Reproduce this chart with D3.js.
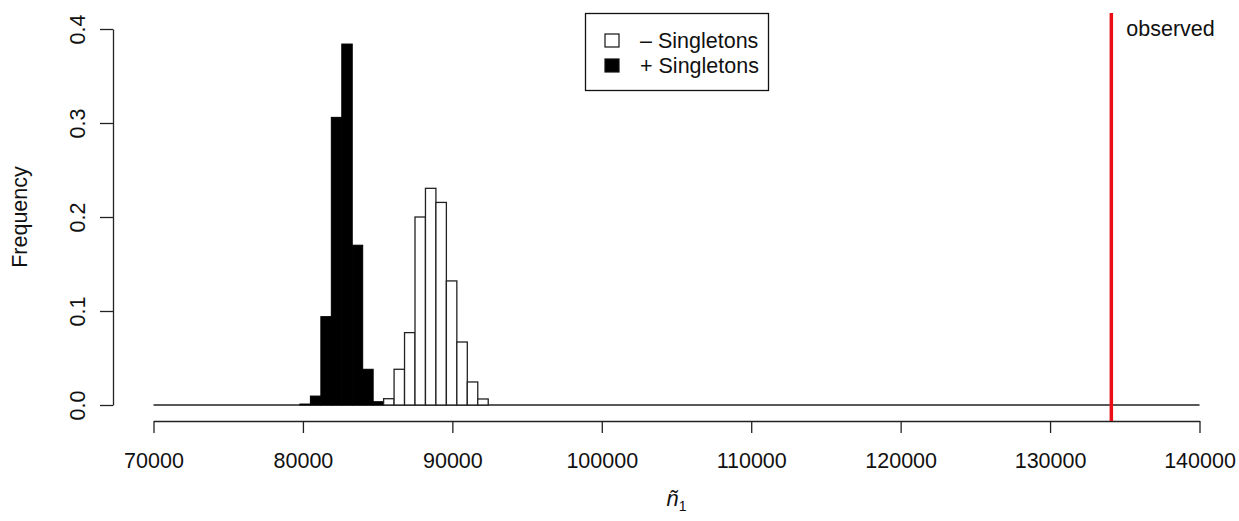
<!DOCTYPE html>
<html>
<head>
<meta charset="utf-8">
<script src="https://cdn.jsdelivr.net/npm/d3@7"></script>
<style>
  body { margin: 0; background: #fff; }
  text { font-family: "Liberation Sans", Arial, sans-serif; fill: #111; }
</style>
</head>
<body>
<div id="chart"></div>
<script>
// histogram bins (bin start, relative frequency)
const binWidth = 700;
const plusStarts = [79800, 80500, 81200, 81900, 82600, 83300, 84000, 84700];
const plusFreq = [0.001, 0.0095, 0.094, 0.306, 0.384, 0.170, 0.038, 0.0035];
const minusStarts = [85400, 86100, 86800, 87500, 88200, 88900, 89600, 90300, 91000, 91700];
const minusFreq = [0.0067, 0.038, 0.077, 0.200, 0.2305, 0.2155, 0.132, 0.067, 0.0245, 0.0064];
const observed = 134100;
const xTicks = [70000, 80000, 90000, 100000, 110000, 120000, 130000, 140000];
const yTicks = [0, 0.1, 0.2, 0.3, 0.4];
const legendLabels = ["\u2013 Singletons", "+ Singletons"];

const W = 1239, H = 521;
const fs = "21.5px";
const svg = d3.select("#chart").append("svg")
    .attr("width", W).attr("height", H);

const x = d3.scaleLinear().domain([70000, 140000]).range([153.5, 1199.5]);
const y = d3.scaleLinear().domain([0, 0.4]).range([405, 29]);

const plus = plusStarts.map((s, i) => ({x0: s, x1: s + binWidth, f: plusFreq[i]}));
const minus = minusStarts.map((s, i) => ({x0: s, x1: s + binWidth, f: minusFreq[i]}));

// baseline at zero
svg.append("line")
    .attr("x1", x(70000)).attr("x2", x(140000))
    .attr("y1", y(0)).attr("y2", y(0))
    .attr("stroke", "#222").attr("stroke-width", 1.3);

// + Singletons (black)
svg.selectAll(".plus").data(plus).enter().append("rect")
    .attr("class", "plus")
    .attr("x", d => x(d.x0)).attr("width", d => x(d.x1) - x(d.x0))
    .attr("y", d => y(d.f)).attr("height", d => y(0) - y(d.f))
    .attr("fill", "#000").attr("stroke", "#000").attr("stroke-width", 1);

// - Singletons (white)
svg.selectAll(".minus").data(minus).enter().append("rect")
    .attr("class", "minus")
    .attr("x", d => x(d.x0)).attr("width", d => x(d.x1) - x(d.x0))
    .attr("y", d => y(d.f)).attr("height", d => y(0) - y(d.f))
    .attr("fill", "#fff").attr("stroke", "#222").attr("stroke-width", 1.3);

// x axis
const xAxis = svg.append("g")
    .attr("transform", "translate(0,421)")
    .call(d3.axisBottom(x).tickValues(xTicks).tickSize(12).tickSizeOuter(0).tickPadding(20).tickFormat(d3.format("d")));
xAxis.select(".domain").attr("stroke", "#222").attr("stroke-width", 1.3);
xAxis.selectAll(".tick line").attr("stroke", "#222").attr("stroke-width", 1.3);
xAxis.selectAll(".tick text")
    .style("font-family", "'Liberation Sans', Arial, sans-serif")
    .style("font-size", fs).attr("fill", "#111");

// y axis
const yAxis = svg.append("g")
    .attr("transform", "translate(113,0)")
    .call(d3.axisLeft(y).tickValues(yTicks).tickSize(13).tickSizeOuter(0).tickFormat(d3.format(".1f")));
yAxis.select(".domain").attr("stroke", "#222").attr("stroke-width", 1.3);
yAxis.selectAll(".tick line").attr("stroke", "#222").attr("stroke-width", 1.3);
yAxis.selectAll(".tick text")
    .attr("x", null).attr("dy", null)
    .attr("text-anchor", "middle")
    .attr("transform", "translate(-28,0) rotate(-90)")
    .attr("y", 0)
    .style("font-family", "'Liberation Sans', Arial, sans-serif")
    .style("font-size", fs).attr("fill", "#111");

// axis titles
svg.append("text")
    .attr("transform", "translate(27," + y(0.2) + ") rotate(-90)")
    .attr("text-anchor", "middle")
    .style("font-size", fs)
    .text("Frequency");

const xl = svg.append("text")
    .attr("x", (x(70000) + x(140000)) / 2)
    .attr("y", 506)
    .attr("text-anchor", "middle")
    .style("font-size", "22px");
xl.append("tspan").style("font-style", "italic").text("\u00f1");
xl.append("tspan").attr("dy", 5).style("font-size", "14px").text("1");

// observed line
svg.append("line")
    .attr("x1", x(observed)).attr("x2", x(observed))
    .attr("y1", 13).attr("y2", 421)
    .attr("stroke", "#ea0f16").attr("stroke-width", 3.5);

svg.append("text")
    .attr("x", x(observed) + 15).attr("y", 36)
    .style("font-size", fs)
    .text("observed");

// legend
const lg = svg.append("g");
lg.append("rect")
    .attr("x", 585.5).attr("y", 13.5).attr("width", 183).attr("height", 77)
    .attr("fill", "#fff").attr("stroke", "#111").attr("stroke-width", 1.3);
legendLabels.forEach((lab, i) => {
    lg.append("rect")
        .attr("x", 605).attr("y", 34 + i * 25).attr("width", 14).attr("height", 13)
        .attr("fill", i === 0 ? "#fff" : "#000")
        .attr("stroke", "#111").attr("stroke-width", 1.2);
    lg.append("text")
        .attr("x", 640).attr("y", 48 + i * 25)
        .style("font-size", fs)
        .text(lab);
});
</script>
</body>
</html>
